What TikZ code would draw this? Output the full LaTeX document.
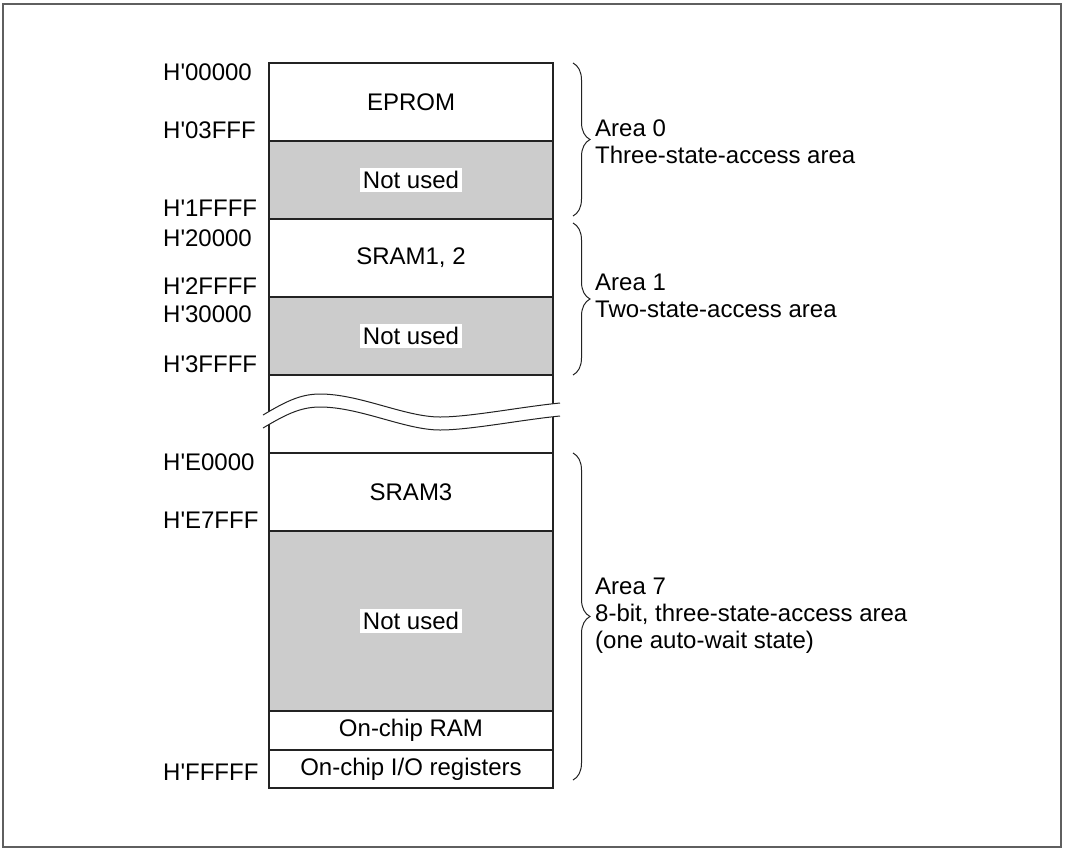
\documentclass[tikz,border=0pt]{standalone}
\usepackage{fontspec}
\setmainfont{Liberation Sans}
\usetikzlibrary{positioning,decorations.pathreplacing}
\definecolor{linegray}{RGB}{35,35,35}
\definecolor{unusedgray}{RGB}{204,204,204}
\definecolor{framegray}{RGB}{95,95,95}
\newcommand{\hx}{H\textquotesingle}

\begin{document}
\begin{tikzpicture}[
  x=1pt,y=-1pt,
  every node/.style={font=\fontsize{24}{27}\selectfont},
  block/.style={draw=linegray,line width=1.3pt,fill=white,minimum width=284pt,inner sep=0pt,outer sep=0pt},
  unused/.style={block,fill=unusedgray},
  tag/.style={fill=white,inner sep=3pt},
  addr/.style={anchor=west,inner sep=0pt},
  note/.style={anchor=west,align=left,inner sep=0pt},
  areabrace/.style={decorate,decoration={brace,amplitude=17pt},line width=1pt,draw=linegray},
  wave/.style={line width=1pt,draw=linegray}
]

  \useasboundingbox (0,0) rectangle (1065,849);
  \draw[framegray,line width=2pt] (3,4) rectangle (1061,847);

  % memory column
  \node[block,minimum height=78pt,anchor=north] (eprom) at (411,63) {EPROM};
  \node[unused,minimum height=78pt,below=0pt of eprom] (nu0) {};
  \node[block,minimum height=78pt,below=0pt of nu0] (sram12) {SRAM1, 2};
  \node[unused,minimum height=78pt,below=0pt of sram12] (nu1) {};
  \node[block,minimum height=78pt,below=0pt of nu1] (gap) {};
  \node[block,minimum height=78pt,below=0pt of gap] (sram3) {SRAM3};
  \node[unused,minimum height=180pt,below=0pt of sram3] (nu7) {};
  \node[block,minimum height=39pt,below=0pt of nu7] (ram) {On-chip RAM};
  \node[block,minimum height=38pt,below=0pt of ram] (io) {On-chip I/O registers};

  \node[tag] (tag0) at (nu0) {Not used};
  \node[tag] (tag1) at (nu1) {Not used};
  \node[tag] (tag7) at (nu7) {Not used};

  % break in the address space
  \fill[white] (263,415) .. controls (285,402) and (300,394) .. (320,394)
    .. controls (360,394) and (405,417) .. (440,417)
    .. controls (470,417) and (520,407) .. (560,403)
    -- (560,416) .. controls (520,420) and (470,430) .. (440,430)
    .. controls (405,430) and (360,407) .. (320,407)
    .. controls (300,407) and (285,415) .. (263,428) -- cycle;
  \draw[wave] (263,415) .. controls (285,402) and (300,394) .. (320,394)
    .. controls (360,394) and (405,417) .. (440,417)
    .. controls (470,417) and (520,407) .. (560,403);
  \draw[wave] (263,428) .. controls (285,415) and (300,407) .. (320,407)
    .. controls (360,407) and (405,430) .. (440,430)
    .. controls (470,430) and (520,420) .. (560,416);

  % addresses
  \node[addr] (a00000) at (163,72) {\hx00000};
  \node[addr] (a03fff) at (163,130) {\hx03FFF};
  \node[addr] (a1ffff) at (163,208) {\hx1FFFF};
  \node[addr] (a20000) at (163,238) {\hx20000};
  \node[addr] (a2ffff) at (163,286) {\hx2FFFF};
  \node[addr] (a30000) at (163,314) {\hx30000};
  \node[addr] (a3ffff) at (163,364) {\hx3FFFF};
  \node[addr] (ae0000) at (163,462) {\hx E0000};
  \node[addr] (ae7fff) at (163,520) {\hx E7FFF};
  \node[addr] (afffff) at (163,772) {\hx FFFFF};

  % areas
  \coordinate (b0top) at (573,63);
  \coordinate (b0bot) at (573,216);
  \coordinate (b1top) at (573,223);
  \coordinate (b1bot) at (573,375);
  \coordinate (b7top) at (573,453);
  \coordinate (b7bot) at (573,780);

  \draw[areabrace] (b0top) -- (b0bot);
  \draw[areabrace] (b1top) -- (b1bot);
  \draw[areabrace] (b7top) -- (b7bot);

  \node[note] (area0) at (595,142) {Area 0\\Three-state-access area};
  \node[note] (area1) at (595,296) {Area 1\\Two-state-access area};
  \node[note] (area7) at (595,616) {Area 7\\8-bit, three-state-access area\\(one auto-wait state)};

\end{tikzpicture}
\end{document}
